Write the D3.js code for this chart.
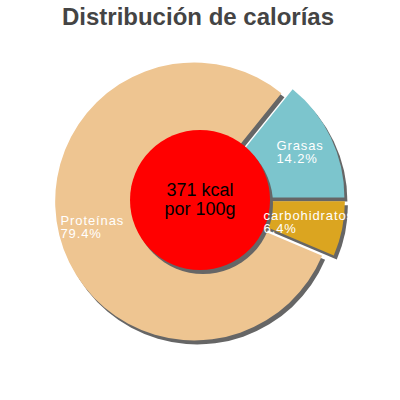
<!DOCTYPE html>
<html>
<head>
<meta charset="utf-8">
<script src="https://cdn.jsdelivr.net/npm/d3@7"></script>
<style>
  body { margin: 0; background: #fff; }
  svg { display: block; font-family: "Liberation Sans", Arial, sans-serif; }
</style>
</head>
<body>
<svg id="chart" width="400" height="400"></svg>
<script>
// valores de la tabla
var categories = ["Grasas", "Proteínas", "carbohidratos"];
var percents = [14.2, 79.4, 6.4];
var colors = ["#7cc5cd", "#eec591", "#dba520"];
var centerLines = ["371 kcal", "por 100g"];
var title = "Distribución de calorías";

function renderPie() {
	var svg = d3.select('#chart');
	var cx = 200, cy = 200;
	var radius = 139;
	var explode = 6;
	var shadow = {dx: 3, dy: 4};
	var label_r = 105;

	svg.append('text')
		.attr('x', 198)
		.attr('y', 25)
		.attr('text-anchor', 'middle')
		.style('font-size', '24px')
		.style('font-weight', 'bold')
		.style('fill', '#444')
		.text(title);

	var data = categories.map(function(c, i) {
		return {name: c, value: percents[i], color: colors[i]};
	});

	// empieza al este y gira en sentido antihorario
	var pie = d3.pie()
		.sort(null)
		.value(function(d) { return d.value; })
		.startAngle(Math.PI/2)
		.endAngle(Math.PI/2 - 2*Math.PI);

	var arc = d3.arc().innerRadius(0).outerRadius(radius);
	var arcs = pie(data);

	function offsetOf(a) {
		var mid = (a.startAngle + a.endAngle)/2;
		return {x: Math.sin(mid)*explode, y: -Math.cos(mid)*explode, mid: mid};
	}

	var g = svg.append('g').attr('transform', 'translate(' + cx + ',' + cy + ')');

	// sombras
	g.selectAll('path.shadow')
		.data(arcs)
		.enter().append('path')
		.attr('class', 'shadow')
		.attr('d', arc)
		.attr('transform', function(a) {
			var o = offsetOf(a);
			return 'translate(' + (o.x + shadow.dx) + ',' + (o.y + shadow.dy) + ')';
		})
		.style('fill', '#666');

	g.selectAll('path.slice')
		.data(arcs)
		.enter().append('path')
		.attr('class', 'slice')
		.attr('d', arc)
		.attr('transform', function(a) {
			var o = offsetOf(a);
			return 'translate(' + o.x + ',' + o.y + ')';
		})
		.style('fill', function(a) { return a.data.color; });

	// círculo central
	var r_center = 70;
	g.append('circle')
		.attr('cx', shadow.dx)
		.attr('cy', shadow.dy)
		.attr('r', r_center)
		.style('fill', '#666');
	g.append('circle')
		.attr('r', r_center)
		.style('fill', '#ff0000');

	var ct = g.append('text')
		.attr('text-anchor', 'middle')
		.style('font-size', '18px')
		.style('fill', '#000');
	centerLines.forEach(function(s, i) {
		ct.append('tspan').attr('x', 0).attr('y', -4 + i*19).text(s);
	});

	// etiquetas (encima del círculo)
	arcs.forEach(function(a) {
		var o = offsetOf(a);
		var lx = o.x + Math.sin(o.mid)*label_r;
		var ly = o.y - Math.cos(o.mid)*label_r;
		var t = g.append('text')
			.style('font-size', '13px')
			.style('letter-spacing', '0.9px')
			.style('fill', '#fff');
		var l1 = t.append('tspan').attr('y', ly - 2).text(a.data.name);
		var l2 = t.append('tspan').attr('y', ly + 11).text(a.data.value.toFixed(1) + '%');
		var w = Math.max(l1.node().getComputedTextLength(), l2.node().getComputedTextLength());
		l1.attr('x', lx - w/2);
		l2.attr('x', lx - w/2);
	});
}

renderPie();
</script>
</body>
</html>
